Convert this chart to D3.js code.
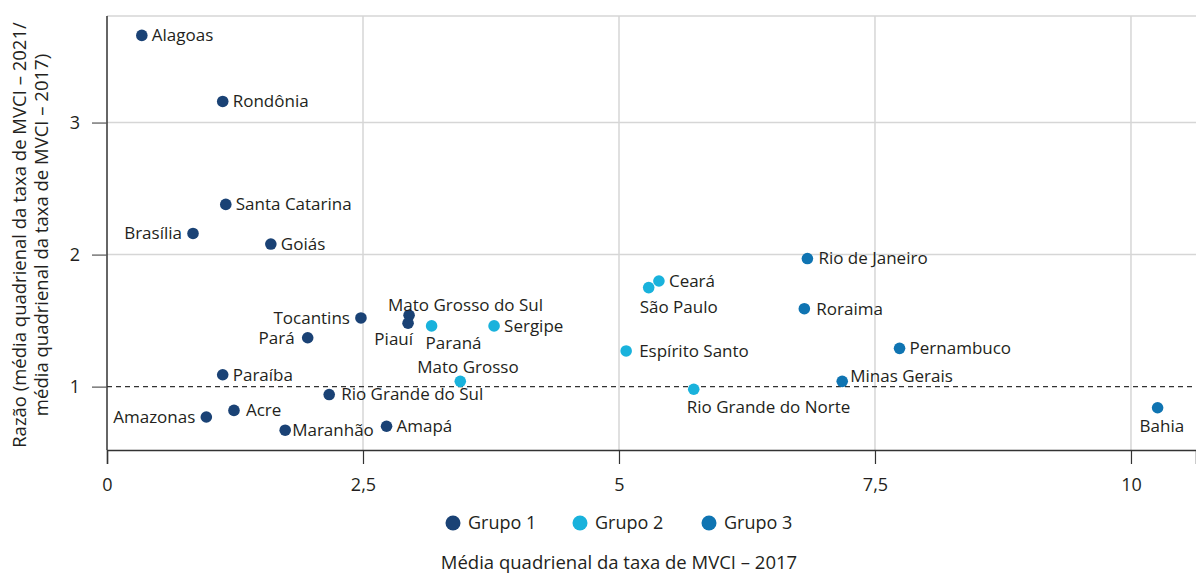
<!DOCTYPE html>
<html>
<head>
<meta charset="utf-8">
<title>MVCI scatter</title>
<script src="https://cdn.jsdelivr.net/npm/d3@7"></script>
<style>
  * { margin: 0; padding: 0; }
  body { background: #fff; }
  svg text { font-family: "Open Sans", "Noto Sans", sans-serif; fill: #231f20; }
</style>
</head>
<body>
<div id="chart"></div>
<script>
// data
var states = ['Alagoas', 'Rondônia', 'Santa Catarina', 'Brasília', 'Goiás',
  'Tocantins', 'Pará', 'Mato Grosso do Sul', 'Piauí', 'Paraná', 'Sergipe',
  'Mato Grosso', 'Paraíba', 'Rio Grande do Sul', 'Amazonas', 'Acre',
  'Maranhão', 'Amapá', 'Ceará', 'São Paulo', 'Espírito Santo',
  'Rio Grande do Norte', 'Rio de Janeiro', 'Roraima', 'Minas Gerais',
  'Pernambuco', 'Bahia'];
var media2017 = [0.34, 1.13, 1.16, 0.84, 1.60, 2.48, 1.96, 2.95, 2.94, 3.17,
  3.78, 3.45, 1.13, 2.17, 0.97, 1.24, 1.74, 2.73, 5.39, 5.29, 5.07, 5.73,
  6.84, 6.81, 7.18, 7.74, 10.26];
var razao = [3.66, 3.16, 2.38, 2.16, 2.08, 1.52, 1.37, 1.54, 1.48, 1.46, 1.46,
  1.04, 1.09, 0.94, 0.77, 0.82, 0.67, 0.70, 1.80, 1.75, 1.27, 0.98, 1.97,
  1.59, 1.04, 1.29, 0.84];
var grupo = [1, 1, 1, 1, 1, 1, 1, 1, 1, 2, 2, 2, 1, 1, 1, 1, 1, 1, 2, 2, 2, 2,
  3, 3, 3, 3, 3];
var groupNames = ['Grupo 1', 'Grupo 2', 'Grupo 3'];
var xTicks = [0, 2.5, 5, 7.5, 10];
var yTicks = [1, 2, 3];

var colors = {1: '#1a4275', 2: '#19b2dc', 3: '#0f74b2'};

// where each label sits relative to its dot (styling, not data)
var labelPos = {
  'Brasília': {dx: -11, dy: 0, anchor: 'end'},
  'Tocantins': {dx: -11, dy: 0, anchor: 'end'},
  'Pará': {dx: -13, dy: 0, anchor: 'end'},
  'Amazonas': {dx: -11, dy: 0, anchor: 'end'},
  'Mato Grosso do Sul': {dx: -21, dy: -10, anchor: 'start'},
  'Piauí': {dx: 5, dy: 16, anchor: 'end'},
  'Paraná': {dx: -6, dy: 17, anchor: 'start'},
  'Mato Grosso': {dx: -43, dy: -14, anchor: 'start'},
  'São Paulo': {dx: -9, dy: 19, anchor: 'start'},
  'Rio Grande do Norte': {dx: -7, dy: 18, anchor: 'start'},
  'Bahia': {dx: -18, dy: 18, anchor: 'start'},
  'Minas Gerais': {dx: 8, dy: -5, anchor: 'start'},
  'Acre': {dx: 12, dy: 0, anchor: 'start'},
  'Maranhão': {dx: 7, dy: 0, anchor: 'start'},
  'Espírito Santo': {dx: 13, dy: 0, anchor: 'start'},
  'Roraima': {dx: 12, dy: 0, anchor: 'start'},
  'Rio de Janeiro': {dx: 11, dy: 0, anchor: 'start'},
  'Rio Grande do Sul': {dx: 12, dy: 0, anchor: 'start'}
};

var W = 1196, H = 574;
var plotL = 107, plotR = 1196, plotT = 16, plotB = 450;

var svg = d3.select('#chart').append('svg')
    .attr('width', W)
    .attr('height', H);

var x = d3.scaleLinear().domain([0, 10.635]).range([plotL, plotR]);
var y = d3.scaleLinear().domain([0.52, 3.807]).range([plotB, plotT]);

// grid
svg.append('g').selectAll('line').data(xTicks.filter(function(d) { return d > 0; }))
  .enter().append('line')
    .attr('x1', function(d) { return x(d); })
    .attr('x2', function(d) { return x(d); })
    .attr('y1', plotT).attr('y2', plotB)
    .attr('stroke', '#d6d6d6').attr('stroke-width', 1.5);

svg.append('g').selectAll('line').data([2, 3, y.domain()[1]])
  .enter().append('line')
    .attr('x1', plotL).attr('x2', plotR)
    .attr('y1', function(d) { return y(d); })
    .attr('y2', function(d) { return y(d); })
    .attr('stroke', '#d6d6d6').attr('stroke-width', 1.5);

// reference line at 1
svg.append('line')
    .attr('x1', plotL).attr('x2', plotR)
    .attr('y1', y(1)).attr('y2', y(1))
    .attr('stroke', '#333').attr('stroke-width', 1.2)
    .attr('stroke-dasharray', '5,4');

// axes
var xAxis = d3.axisBottom(x).tickValues(xTicks).tickSize(14).tickPadding(14)
    .tickFormat(function(d) { return String(d).replace('.', ','); });
var gx = svg.append('g').attr('transform', 'translate(0,' + plotB + ')').call(xAxis);
gx.select('.domain').attr('stroke', '#333').attr('stroke-width', 1.5);
gx.selectAll('.tick line').attr('stroke', '#333').attr('stroke-width', 1.2);
gx.selectAll('.tick text').attr('font-size', 18).attr('fill', '#231f20')
  .style('font-family', '"Open Sans", sans-serif');

var yAxis = d3.axisLeft(y).tickValues(yTicks).tickSize(15).tickPadding(12)
    .tickFormat(d3.format('d'));
var gy = svg.append('g').attr('transform', 'translate(' + plotL + ',0)').call(yAxis);
gy.select('.domain').attr('stroke', '#333').attr('stroke-width', 1.5)
  .attr('d', 'M0,' + plotT + 'V' + plotB);
gy.selectAll('.tick line').attr('stroke', '#555').attr('stroke-width', 1.2);
gy.selectAll('.tick text').attr('font-size', 18).attr('fill', '#231f20')
  .style('font-family', '"Open Sans", sans-serif');

// points
var data = states.map(function(s, i) {
  return {name: s, x: media2017[i], y: razao[i], g: grupo[i]};
});

svg.append('g').selectAll('circle').data(data)
  .enter().append('circle')
    .attr('cx', function(d) { return x(d.x); })
    .attr('cy', function(d) { return y(d.y); })
    .attr('r', 5.8)
    .attr('fill', function(d) { return colors[d.g]; });

svg.append('g').selectAll('text').data(data)
  .enter().append('text')
    .attr('x', function(d) {
      var p = labelPos[d.name] || {dx: 10};
      return x(d.x) + p.dx;
    })
    .attr('y', function(d) {
      var p = labelPos[d.name] || {dy: 0};
      return y(d.y) + p.dy;
    })
    .attr('dy', '0.35em')
    .attr('text-anchor', function(d) {
      var p = labelPos[d.name];
      return p ? p.anchor : 'start';
    })
    .attr('font-size', 17)
    .text(function(d) { return d.name; });

// legend
var legendX = [453, 580, 709];
var lg = svg.append('g').selectAll('g').data(groupNames)
  .enter().append('g')
    .attr('transform', function(d, i) { return 'translate(' + legendX[i] + ',523)'; });
lg.append('circle').attr('r', 7.5).attr('fill', function(d, i) { return colors[i + 1]; });
lg.append('text').attr('x', 15).attr('dy', '0.35em').attr('font-size', 18)
  .text(function(d) { return d; });

// axis titles
svg.append('text')
    .attr('x', 619).attr('y', 563).attr('dy', '0.35em')
    .attr('text-anchor', 'middle').attr('font-size', 18.5)
    .text('Média quadrienal da taxa de MVCI – 2017');

var yt = svg.append('text')
    .attr('transform', 'translate(20,235) rotate(-90)')
    .attr('text-anchor', 'middle').attr('font-size', 18.5);
yt.append('tspan').attr('x', 0).attr('dy', '0.35em')
  .text('Razão (média quadrienal da taxa de MVCI – 2021/');
yt.append('tspan').attr('x', 0).attr('dy', 22)
  .text('média quadrienal da taxa de MVCI – 2017)');
</script>
</body>
</html>
